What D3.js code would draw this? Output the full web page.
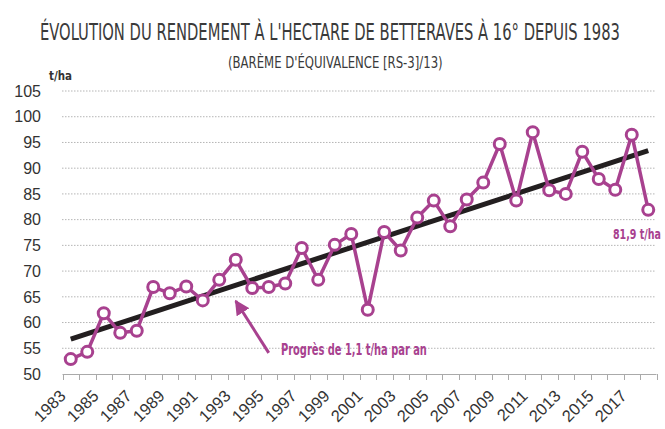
<!DOCTYPE html>
<html>
<head>
<meta charset="utf-8">
<script src="https://cdn.jsdelivr.net/npm/d3@7"></script>
<style>
	body { margin: 0; background: #fff; }
	.cond { font-family: "Liberation Sans Narrow", "DejaVu Sans Condensed", "Roboto", sans-serif; font-stretch: condensed; }
	.tick-label { font-family: "Liberation Sans", Arial, sans-serif; fill: #333; }
</style>
</head>
<body>
<div id="chart"></div>
<script>
// DATA
const years = [1983, 1984, 1985, 1986, 1987, 1988, 1989, 1990, 1991, 1992, 1993, 1994,
	1995, 1996, 1997, 1998, 1999, 2000, 2001, 2002, 2003, 2004, 2005, 2006,
	2007, 2008, 2009, 2010, 2011, 2012, 2013, 2014, 2015, 2016, 2017, 2018];
const yields = [52.9, 54.3, 61.8, 58.0, 58.4, 66.9, 65.7, 67.0, 64.3, 68.3, 72.2, 66.7,
	66.9, 67.6, 74.5, 68.3, 75.1, 77.2, 62.5, 77.6, 74.0, 80.4, 83.7, 78.7,
	83.9, 87.2, 94.7, 83.7, 97.0, 85.7, 85.0, 93.2, 87.9, 85.8, 96.5, 81.9];
const trendYears = [1983, 2018];
const trendValues = [56.8, 93.4];
const yTicks = [50, 55, 60, 65, 70, 75, 80, 85, 90, 95, 100, 105];
const xTickLabels = [1983, 1985, 1987, 1989, 1991, 1993, 1995, 1997, 1999, 2001,
	2003, 2005, 2007, 2009, 2011, 2013, 2015, 2017];

const title = "ÉVOLUTION DU RENDEMENT À L'HECTARE DE BETTERAVES À 16° DEPUIS 1983";
const subtitle = "(BARÈME D'ÉQUIVALENCE [RS-3]/13)";
const unitLabel = "t/ha";
const trendNote = "Progrès de 1,1 t/ha par an";
const lastNote = "81,9 t/ha";

// SVG DIMENSIONS
const width = 665;
const height = 429;
const purple = "#a8418f";
const svg = d3.select("#chart")
	.append("svg")
	.attr("width", width)
	.attr("height", height);

// squeeze a text horizontally to a given width (condensed look)
function fitText(sel, x0, y0, w) {
	const natural = sel.node().getComputedTextLength();
	sel.attr("transform", `translate(${x0},${y0}) scale(${w / natural},1)`);
	return sel;
}

// SCALES
const x = d3.scaleBand()
	.domain(years)
	.range([62.5, 656.5]);
const xc = d => x(d) + x.bandwidth() / 2;
const y = d3.scaleLinear()
	.domain([50, 105])
	.range([374, 91]);

// TITLES
fitText(svg.append("text")
	.attr("class", "cond")
	.style("font-size", "23px")
	.style("fill", "#3a3a3a")
	.text(title), 40, 40, 580);
fitText(svg.append("text")
	.attr("class", "cond")
	.style("font-size", "15px")
	.style("fill", "#3a3a3a")
	.text(subtitle), 228, 68, 215);
fitText(svg.append("text")
	.attr("class", "cond")
	.style("font-size", "13px")
	.style("font-weight", "bold")
	.style("fill", "#333")
	.text(unitLabel), 49, 80, 23);

// GRID
svg.append("g")
	.selectAll("line")
	.data(yTicks.filter(d => d > 50))
	.enter()
	.append("line")
		.attr("x1", 62).attr("x2", 656)
		.attr("y1", d => y(d)).attr("y2", d => y(d))
		.attr("stroke", "#b5b5b5")
		.attr("stroke-width", 1)
		.attr("stroke-dasharray", "1.5,1.5");

// Y LABELS
svg.append("g")
	.selectAll("text")
	.data(yTicks)
	.enter()
	.append("text")
		.attr("class", "tick-label")
		.attr("x", 41)
		.attr("y", d => y(d))
		.attr("dy", "0.36em")
		.attr("text-anchor", "end")
		.style("font-size", "16px")
		.text(d => d);

// X AXIS
const xAxis = svg.append("g");
xAxis.append("line")
	.attr("x1", 62.5).attr("x2", 656.5)
	.attr("y1", y(50) + 0.5).attr("y2", y(50) + 0.5)
	.attr("stroke", "#aaa");
xAxis.selectAll("line.tk")
	.data(years.concat([years[years.length - 1] + 1]))
	.enter()
	.append("line")
		.attr("class", "tk")
		.attr("x1", (d, i) => Math.round(62.5 + i * x.step()) + 0.5)
		.attr("x2", (d, i) => Math.round(62.5 + i * x.step()) + 0.5)
		.attr("y1", y(50)).attr("y2", y(50) + 6)
		.attr("stroke", "#aaa");
xAxis.selectAll("text")
	.data(xTickLabels)
	.enter()
	.append("text")
		.attr("class", "tick-label")
		.attr("text-anchor", "end")
		.style("font-size", "16.5px")
		.attr("transform", d => `translate(${xc(d) - 4},${y(50) + 23}) rotate(-45)`)
		.text(d => d);

// TREND
svg.append("line")
	.attr("x1", xc(trendYears[0])).attr("y1", y(trendValues[0]))
	.attr("x2", xc(trendYears[1])).attr("y2", y(trendValues[1]))
	.attr("stroke", "#231f20")
	.attr("stroke-width", 5);

// SERIES
const points = years.map((d, i) => [d, yields[i]]);
svg.append("path")
	.datum(points)
	.attr("d", d3.line().x(d => xc(d[0])).y(d => y(d[1])))
	.attr("fill", "none")
	.attr("stroke", purple)
	.attr("stroke-width", 3.5)
	.attr("stroke-linejoin", "round");
svg.append("g")
	.selectAll("circle")
	.data(points)
	.enter()
	.append("circle")
		.attr("cx", d => xc(d[0]))
		.attr("cy", d => y(d[1]))
		.attr("r", 5.5)
		.attr("fill", "#fff")
		.attr("stroke", purple)
		.attr("stroke-width", 3);

// ANNOTATIONS
svg.append("defs").append("marker")
	.attr("id", "head")
	.attr("viewBox", "0 0 10 10")
	.attr("refX", 9).attr("refY", 5)
	.attr("markerWidth", 5).attr("markerHeight", 5)
	.attr("markerUnits", "strokeWidth")
	.attr("orient", "auto")
	.append("path")
		.attr("d", "M0,0L10,5L0,10Z")
		.attr("fill", purple);
svg.append("line")
	.attr("x1", xc(1995)).attr("y1", y(54.1))
	.attr("x2", xc(1993)).attr("y2", y(64.2))
	.attr("stroke", purple)
	.attr("stroke-width", 3)
	.attr("marker-end", "url(#head)");
fitText(svg.append("text")
	.attr("class", "cond")
	.style("font-size", "15px")
	.style("font-weight", "bold")
	.style("fill", purple)
	.text(trendNote), 281, 355, 146);
fitText(svg.append("text")
	.attr("class", "cond")
	.style("font-size", "14px")
	.style("font-weight", "bold")
	.style("fill", purple)
	.text(lastNote), 613, 239, 48);
</script>
</body>
</html>
